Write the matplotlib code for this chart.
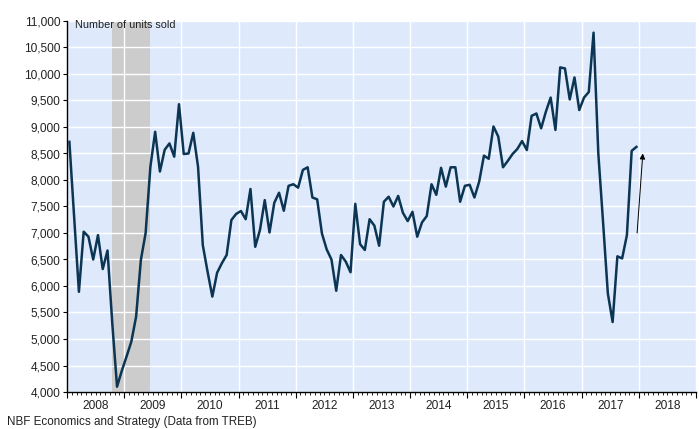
import matplotlib
matplotlib.use('Agg')
import matplotlib.pyplot as plt
from matplotlib.ticker import FuncFormatter, MultipleLocator
import matplotlib.transforms as mtransforms

# monthly units sold, Jan 2008 .. Dec 2017
units = [8720, 7300, 5890, 7025, 6930, 6500, 6960, 6320, 6670, 5300, 4100, 4400,
         4670, 4950, 5420, 6490, 7000, 8250, 8910, 8160, 8570, 8690, 8440, 9430,
         8490, 8500, 8890, 8250, 6770, 6270, 5800, 6250, 6430, 6585, 7245, 7360,
         7415, 7260, 7830, 6740, 7060, 7620, 7010, 7570, 7760, 7420, 7890, 7920,
         7855, 8190, 8240, 7670, 7635, 6990, 6690, 6500, 5910, 6585, 6460, 6260,
         7550, 6790, 6680, 7260, 7140, 6760, 7590, 7685, 7500, 7700, 7380, 7225,
         7400, 6930, 7200, 7320, 7920, 7720, 8230, 7875, 8240, 8240, 7590, 7890,
         7910, 7670, 7970, 8460, 8400, 9010, 8820, 8240, 8360, 8490, 8585, 8735,
         8565, 9210, 9255, 8975, 9290, 9555, 8945, 10125, 10105, 9520, 9935, 9320,
         9555, 9660, 10780, 8500, 7200, 5860, 5320, 6560, 6520, 6960, 8550, 8625]
start_year = 2008
months = [start_year + (i + 0.5) / 12 for i in range(len(units))]

recession = (2008 + 9.4 / 12, 2008 + 17.5 / 12)
years = list(range(2008, 2019))
arrow_from = (2017.97, 7000)
arrow_to = (2018.07, 8500)

plt.rcParams['font.family'] = ['Liberation Sans', 'DejaVu Sans']

fig = plt.figure(figsize=(6.99, 4.29), dpi=100)
ax = fig.add_axes([67 / 699, 1 - 392 / 429, 629 / 699, 371 / 429])
ax.set_facecolor('#deeafc')

ax.axvspan(recession[0], recession[1], color='#cccccc', zorder=0.2, lw=0)
ax.set_axisbelow(True)
ax.grid(True, which='major', color='white', lw=1.0)

ax.plot(months, units, color='#0b3553', lw=1.8, zorder=3)
ax.annotate('', xy=arrow_to, xytext=arrow_from,
            arrowprops=dict(arrowstyle='-|>', color='black', lw=0.7,
                            mutation_scale=8, shrinkA=0, shrinkB=0), zorder=4)

ax.set_xlim(2008, 2019)
ax.set_ylim(4000, 11000)
ax.yaxis.set_major_locator(MultipleLocator(500))
ax.yaxis.set_major_formatter(FuncFormatter(lambda v, p: f'{int(v):,}'))
ax.set_xticks(years + [2019])
ax.set_xticklabels([])
ax.xaxis.set_minor_locator(MultipleLocator(1 / 12))

for s in ['top', 'right']:
    ax.spines[s].set_visible(False)
for s in ['left', 'bottom']:
    ax.spines[s].set_color('black')
    ax.spines[s].set_linewidth(1.0)

ax.tick_params(axis='y', length=3, width=0.8, pad=2, labelsize=8.6, labelcolor='#222222')
ax.tick_params(axis='x', which='major', length=4, width=0.8)
ax.tick_params(axis='x', which='minor', length=2, width=0.6)

trans = mtransforms.blended_transform_factory(ax.transData, fig.transFigure)
for y in years:
    ax.text(y + 0.5, 1 - 406 / 429, str(y), transform=trans, ha='center', va='center',
            fontsize=8.6, color='#222222')

ax.text(2008 + 8 / 57.2, 10920, 'Number of units sold', fontsize=7.8, color='#222222',
        va='center', ha='left')
fig.text(7 / 699, 1 - 422 / 429, 'NBF Economics and Strategy (Data from TREB)',
         fontsize=8.4, color='#222222', va='center', ha='left')

fig.savefig('out.png', dpi=100)
